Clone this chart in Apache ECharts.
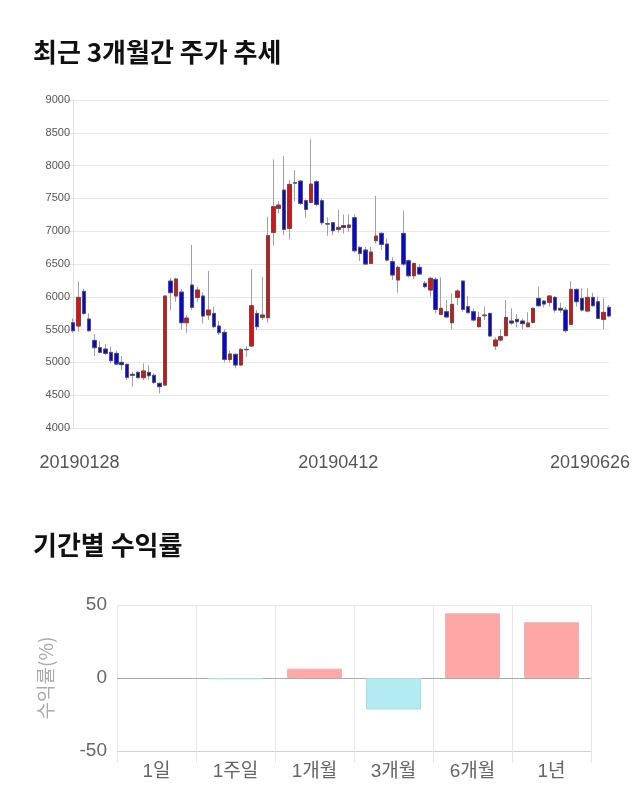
<!DOCTYPE html>
<html>
<head>
<meta charset="utf-8">
<script src="https://cdn.jsdelivr.net/npm/echarts@6/dist/echarts.min.js"></script>
<style>
html,body{margin:0;padding:0;background:#fff;}
#c{width:640px;height:810px;}
</style>
</head>
<body>
<div id="c"></div>
<script>
const dates = [
'20190128','20190129','20190130','20190131',
'20190207','20190208','20190211','20190212','20190213','20190214','20190215',
'20190218','20190219','20190220','20190221','20190222','20190225','20190226','20190227','20190228',
'20190304','20190305','20190306','20190307','20190308','20190311','20190312','20190313','20190314','20190315',
'20190318','20190319','20190320','20190321','20190322','20190325','20190326','20190327','20190328','20190329',
'20190401','20190402','20190403','20190404','20190405','20190408','20190409','20190410','20190411','20190412',
'20190415','20190416','20190417','20190418','20190419','20190422','20190423','20190424','20190425','20190426',
'20190429','20190430','20190502','20190503','20190507','20190508','20190509','20190510',
'20190513','20190514','20190515','20190516','20190517','20190520','20190521','20190522','20190523','20190524',
'20190527','20190528','20190529','20190530','20190531',
'20190603','20190604','20190605','20190607','20190610','20190611','20190612','20190613','20190614',
'20190617','20190618','20190619','20190620','20190621','20190624','20190625','20190626'
];
const opens = [5605,5554,6083,5661,5336,5224,5204,5153,5138,5001,
4970,4818,4848,4767,4848,4803,4681,4655,6240,6012,
6072,5605,6179,5991,6012,5722,5747,5555,5458,5046,
5123,4960,5199,5250,5747,5687,5681,6982,7348,7627,
7043,7738,7764,7465,7439,7754,7465,7114,7129,7028,
7084,7058,7205,6753,6713,6509,6855,6967,6804,6535,
6256,6967,6550,6321,6449,6205,6103,6266,5732,5773,
5605,5991,6240,5849,5773,5544,5712,5747,5250,5341,
5407,5631,5656,5631,5544,5610,5976,5935,5915,5991,
5824,5798,5580,6113,5976,5783,5991,5925,5656,5839];
const closes = [5483,5991,5747,5483,5224,5153,5138,5026,4975,4965,
4772,4803,4767,4869,4797,4696,4630,6012,6062,6271,
5605,5676,5839,6103,5707,5798,5544,5453,5046,5128,
4960,5199,5194,5864,5544,5722,6931,7373,7398,7028,
7713,7733,7424,7332,7718,7409,7129,7109,7007,7058,
7058,7094,6702,6662,6499,6682,6926,6799,6560,6332,
6449,6499,6321,6509,6347,6154,6281,5808,5824,5692,
5885,6088,5808,5758,5646,5686,5722,5402,5341,5392,
5686,5600,5620,5590,5600,5824,5864,5890,6012,5798,
5798,5483,6113,5925,5798,5991,5864,5671,5763,5707];
const lows = [5453,5468,5722,5468,5097,5138,5112,4985,4960,4880,
4731,4630,4757,4731,4731,4670,4528,4640,5798,5925,
5504,5453,5798,5925,5595,5646,5519,5417,5001,5001,
4909,4950,5087,5240,5493,5646,5605,6779,7271,6941,
6875,7459,7398,7205,7424,7383,7094,6931,6941,6977,
6967,6992,6672,6545,6494,6499,6814,6713,6535,6256,
6062,6469,6296,6271,6332,6128,6002,5747,5722,5687,
5504,5875,5773,5748,5620,5534,5646,5392,5189,5316,
5402,5570,5534,5504,5534,5595,5849,5839,5849,5758,
5758,5453,5570,5849,5773,5773,5849,5661,5509,5686];
const highs = [5671,6235,6123,5747,5432,5326,5280,5239,5178,5097,
4985,4858,4868,4985,4960,4833,4691,6012,6291,6291,
6118,5722,6789,6154,6067,6393,5849,5636,5504,5178,
5138,5214,5250,6423,5798,6306,7221,8094,7459,8145,
7779,7932,7779,7485,8399,7779,7500,7210,7144,7332,
7256,7256,7256,6773,6764,6764,7541,6992,6890,6601,
6474,7307,6570,6520,6499,6240,6306,6296,6296,5951,
6052,6113,6240,6011,5824,5773,5849,5758,5382,5504,
5951,5824,5737,5671,5763,5839,6154,5951,6027,6012,
5910,5849,6240,6128,6128,6128,6062,6002,5976,5875];
const priceTicks = {min:4000, max:9000, step:500};
const dateLabels = ['20190128','20190412','20190626'];

const periods = ['1일','1주일','1개월','3개월','6개월','1년'];
const returns = [0,-0.9,6.4,-21.6,44.3,38.2];
const returnTicks = {min:-50, max:50, step:50};

const FONT = "'Liberation Sans','Noto Sans CJK KR',sans-serif";
const KFONT = "'Noto Sans CJK KR','Liberation Sans',sans-serif";

const fullOHLC = dates.map((d,i)=>[opens[i],closes[i],lows[i],highs[i]]);
const bodyOHLC = dates.map((d,i)=>[opens[i],closes[i],Math.min(opens[i],closes[i]),Math.max(opens[i],closes[i])]);

const chart = echarts.init(document.getElementById('c'), null, {renderer:'canvas'});
chart.setOption({
  animation:false,
  backgroundColor:'#fff',
  title:[
    {text:'최근 3개월간 주가 추세', left:28, top:34, textStyle:{fontFamily:KFONT, fontSize:26, fontWeight:'bold', color:'#111'}},
    {text:'기간별 수익률', left:28, top:527, textStyle:{fontFamily:KFONT, fontSize:26, fontWeight:'bold', color:'#111'}}
  ],
  grid:[
    {left:73, right:31, top:100, height:328},
    {left:117, right:49, top:605, height:146}
  ],
  xAxis:[
    {type:'category', gridIndex:0, data:dates, boundaryGap:false,
     axisLine:{show:false}, axisTick:{show:false}, splitLine:{show:false},
     axisLabel:{
       interval:function(i,v){return dateLabels.indexOf(v)>=0;},
       margin:26, color:'#555', fontSize:18, fontFamily:FONT,
       formatter:function(v){
         if(v===dateLabels[0]) return '{l|'+v+'}';
         if(v===dateLabels[2]) return '{r|'+v+'}';
         return '{m|'+v+'}';
       },
       rich:{
         l:{padding:[0,0,0,13], color:'#555', fontSize:18, fontFamily:FONT},
         m:{color:'#555', fontSize:18, fontFamily:FONT},
         r:{padding:[0,38,0,0], color:'#555', fontSize:18, fontFamily:FONT}
       }
     }},
    {type:'category', gridIndex:1, data:periods,
     axisLine:{show:true, onZero:false, lineStyle:{color:'#d0d0d0'}},
     axisTick:{show:true, length:12, lineStyle:{color:'#e6e6e6'}},
     splitLine:{show:true, lineStyle:{color:'#e6e6e6'}},
     axisLabel:{color:'#666', fontSize:19, fontFamily:FONT, margin:11}}
  ],
  yAxis:[
    {type:'value', gridIndex:0, min:priceTicks.min, max:priceTicks.max, interval:priceTicks.step,
     axisLine:{show:true, lineStyle:{color:'#e0e0e0'}},
     axisTick:{show:true, length:8, lineStyle:{color:'#e0e0e0'}},
     splitLine:{show:true, lineStyle:{color:'#e8e8e8'}},
     axisLabel:{color:'#555', fontSize:11, fontFamily:FONT, margin:3, formatter:function(v){return String(v);}}},
    {type:'value', gridIndex:1, min:returnTicks.min, max:returnTicks.max, interval:returnTicks.step,
     name:'수익률(%)', nameLocation:'middle', nameRotate:90, nameGap:62,
     nameTextStyle:{color:'#aaa', fontSize:19, fontFamily:KFONT},
     axisLine:{show:false}, axisTick:{show:false},
     splitLine:{show:true, lineStyle:{color:'#e6e6e6'}},
     axisLabel:{color:'#666', fontSize:19, fontFamily:FONT, margin:10}}
  ],
  series:[
    {type:'candlestick', xAxisIndex:0, yAxisIndex:0, data:fullOHLC, barWidth:4,
     itemStyle:{color:'#ff0000', color0:'#0000ff', borderColor:'#a0a0a0', borderColor0:'#a0a0a0', borderWidth:1}},
    {type:'candlestick', xAxisIndex:0, yAxisIndex:0, data:bodyOHLC, barWidth:4,
     itemStyle:{color:'#ff0000', color0:'#0000ff', borderColor:'#555', borderColor0:'#555', borderWidth:1}},
    {type:'bar', xAxisIndex:1, yAxisIndex:1, barWidth:55, z:3,
     data:returns.map(v=>({value:v, itemStyle:{
        color: v>=0 ? '#ffa6a6' : '#b2ebf2',
        borderColor: v>=0 ? '#eeb2b2' : '#a8dde6', borderWidth: v===0 ? 0 : 1}})),
     markLine:{silent:true, symbol:'none', label:{show:false}, z:2,
       lineStyle:{color:'#aaa', width:1, type:'solid'}, data:[{yAxis:0}]}}
  ]
});
</script>
</body>
</html>
